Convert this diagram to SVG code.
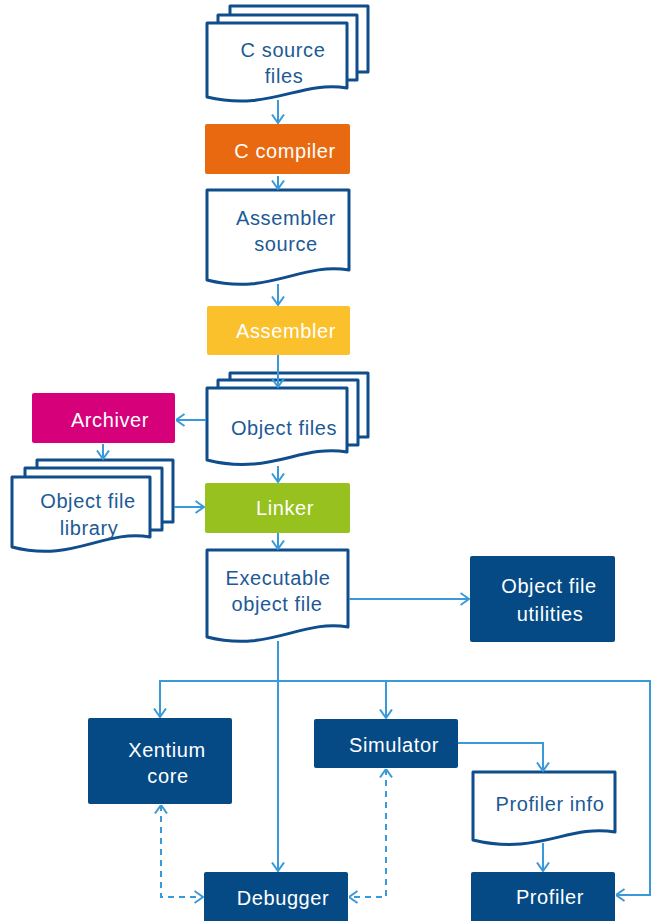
<svg xmlns="http://www.w3.org/2000/svg" width="651" height="921" viewBox="0 0 651 921">
<defs>
<style>
.doc{fill:#fff;stroke:#0F4D8C;stroke-width:3;stroke-linejoin:round}
.box{stroke:none}
.dk{fill:#054A85}
.t{font-family:"Liberation Sans",Arial,sans-serif;font-size:20px;letter-spacing:0.6px;text-anchor:middle}
.td{fill:#1C5A96}
.tw{fill:#fff}
.c{fill:none;stroke:#3A9AD9;stroke-width:2}
.dash{stroke-dasharray:6 5}
</style>
<marker id="a" viewBox="0 0 10 14" refX="9.5" refY="7" markerWidth="10" markerHeight="14" markerUnits="userSpaceOnUse" orient="auto-start-reverse">
<path d="M1,1 L9.5,7 L1,13" fill="none" stroke="#3A9AD9" stroke-width="2"/>
</marker>
</defs>
<rect width="651" height="921" fill="#fff"/>

<g id="c-source-files">
<rect class="doc" x="230" y="6" width="138" height="66"/>
<rect class="doc" x="218" y="15" width="139" height="65"/>
<path class="doc" d="M207,23 H347 V88 C300,80 270,112 207,97 Z"/>
<text class="t td" x="283" y="57">C source</text>
<text class="t td" x="284" y="83">files</text>
</g>

<g id="c-compiler">
<rect class="box" x="205" y="124" width="145" height="50" rx="2" fill="#E8690F"/>
<text class="t tw" x="285" y="158">C compiler</text>
</g>

<g id="assembler-source">
<path class="doc" d="M207,190 H349 V270 C300,262 270,296 207,280 Z"/>
<text class="t td" x="286" y="225">Assembler</text>
<text class="t td" x="286" y="251">source</text>
</g>

<g id="assembler">
<rect class="box" x="207" y="306" width="143" height="49" rx="2" fill="#FBC12D"/>
<text class="t tw" x="286" y="338">Assembler</text>
</g>

<g id="object-files">
<rect class="doc" x="230" y="373" width="138" height="64"/>
<rect class="doc" x="218" y="380" width="140" height="65"/>
<path class="doc" d="M207,388 H347 V452 C300,444 270,476 207,460 Z"/>
<text class="t td" x="284" y="435">Object files</text>
</g>

<g id="archiver">
<rect class="box" x="32" y="393" width="143" height="50" rx="2" fill="#D5007A"/>
<text class="t tw" x="110" y="427">Archiver</text>
</g>

<g id="object-file-library">
<rect class="doc" x="37" y="460" width="136" height="62"/>
<rect class="doc" x="25" y="468" width="137" height="62"/>
<path class="doc" d="M12,477 H150 V537 C103,529 73,563 12,547 Z"/>
<text class="t td" x="88" y="508">Object file</text>
<text class="t td" x="89" y="535">library</text>
</g>

<g id="linker">
<rect class="box" x="205" y="483" width="145" height="50" rx="2" fill="#97C11F"/>
<text class="t tw" x="285" y="515">Linker</text>
</g>

<g id="executable-object-file">
<path class="doc" d="M207,550 H348 V627 C300,619 270,653 207,637 Z"/>
<text class="t td" x="278" y="585">Executable</text>
<text class="t td" x="277" y="611">object file</text>
</g>

<g id="object-file-utilities">
<rect class="box dk" x="470" y="556" width="145" height="86" rx="2"/>
<text class="t tw" x="549" y="593">Object file</text>
<text class="t tw" x="550" y="621">utilities</text>
</g>

<g id="xentium-core">
<rect class="box dk" x="88" y="718" width="144" height="86" rx="2"/>
<text class="t tw" x="167" y="757">Xentium</text>
<text class="t tw" x="168" y="783">core</text>
</g>

<g id="simulator">
<rect class="box dk" x="314" y="719" width="144" height="49" rx="2"/>
<text class="t tw" x="394" y="752">Simulator</text>
</g>

<g id="profiler-info">
<path class="doc" d="M473,772 H615 V832 C568,824 538,856 473,840 Z"/>
<text class="t td" x="550" y="811">Profiler info</text>
</g>

<g id="debugger">
<rect class="box dk" x="204" y="872" width="144" height="52" rx="2"/>
<text class="t tw" x="283" y="905">Debugger</text>
</g>

<g id="profiler">
<rect class="box dk" x="471" y="872" width="144" height="52" rx="2"/>
<text class="t tw" x="550" y="904">Profiler</text>
</g>

<g id="connectors">
<path class="c" d="M278,100 V123" marker-end="url(#a)"/>
<path class="c" d="M278,176 V189" marker-end="url(#a)"/>
<path class="c" d="M278,284 V305" marker-end="url(#a)"/>
<path class="c" d="M278,355 V387" marker-end="url(#a)"/>
<path class="c" d="M206,420 H176" marker-end="url(#a)"/>
<path class="c" d="M103,444 V459" marker-end="url(#a)"/>
<path class="c" d="M278,466 V482" marker-end="url(#a)"/>
<path class="c" d="M174,507 H204" marker-end="url(#a)"/>
<path class="c" d="M278,533 V549" marker-end="url(#a)"/>
<path class="c" d="M349,599 H469" marker-end="url(#a)"/>
<path class="c" d="M278,641 V871" marker-end="url(#a)"/>
<path class="c" d="M278,681 H160 V717" marker-end="url(#a)"/>
<path class="c" d="M278,681 H386 V718" marker-end="url(#a)"/>
<path class="c" d="M386,681 H650 V895 H616" marker-end="url(#a)"/>
<path class="c" d="M458,743 H543 V771" marker-end="url(#a)"/>
<path class="c" d="M543,843 V871" marker-end="url(#a)"/>
<path class="c dash" d="M161,805 V897 H203" marker-start="url(#a)" marker-end="url(#a)"/>
<path class="c dash" d="M386,769 V897 H349" marker-start="url(#a)" marker-end="url(#a)"/>
</g>
</svg>
